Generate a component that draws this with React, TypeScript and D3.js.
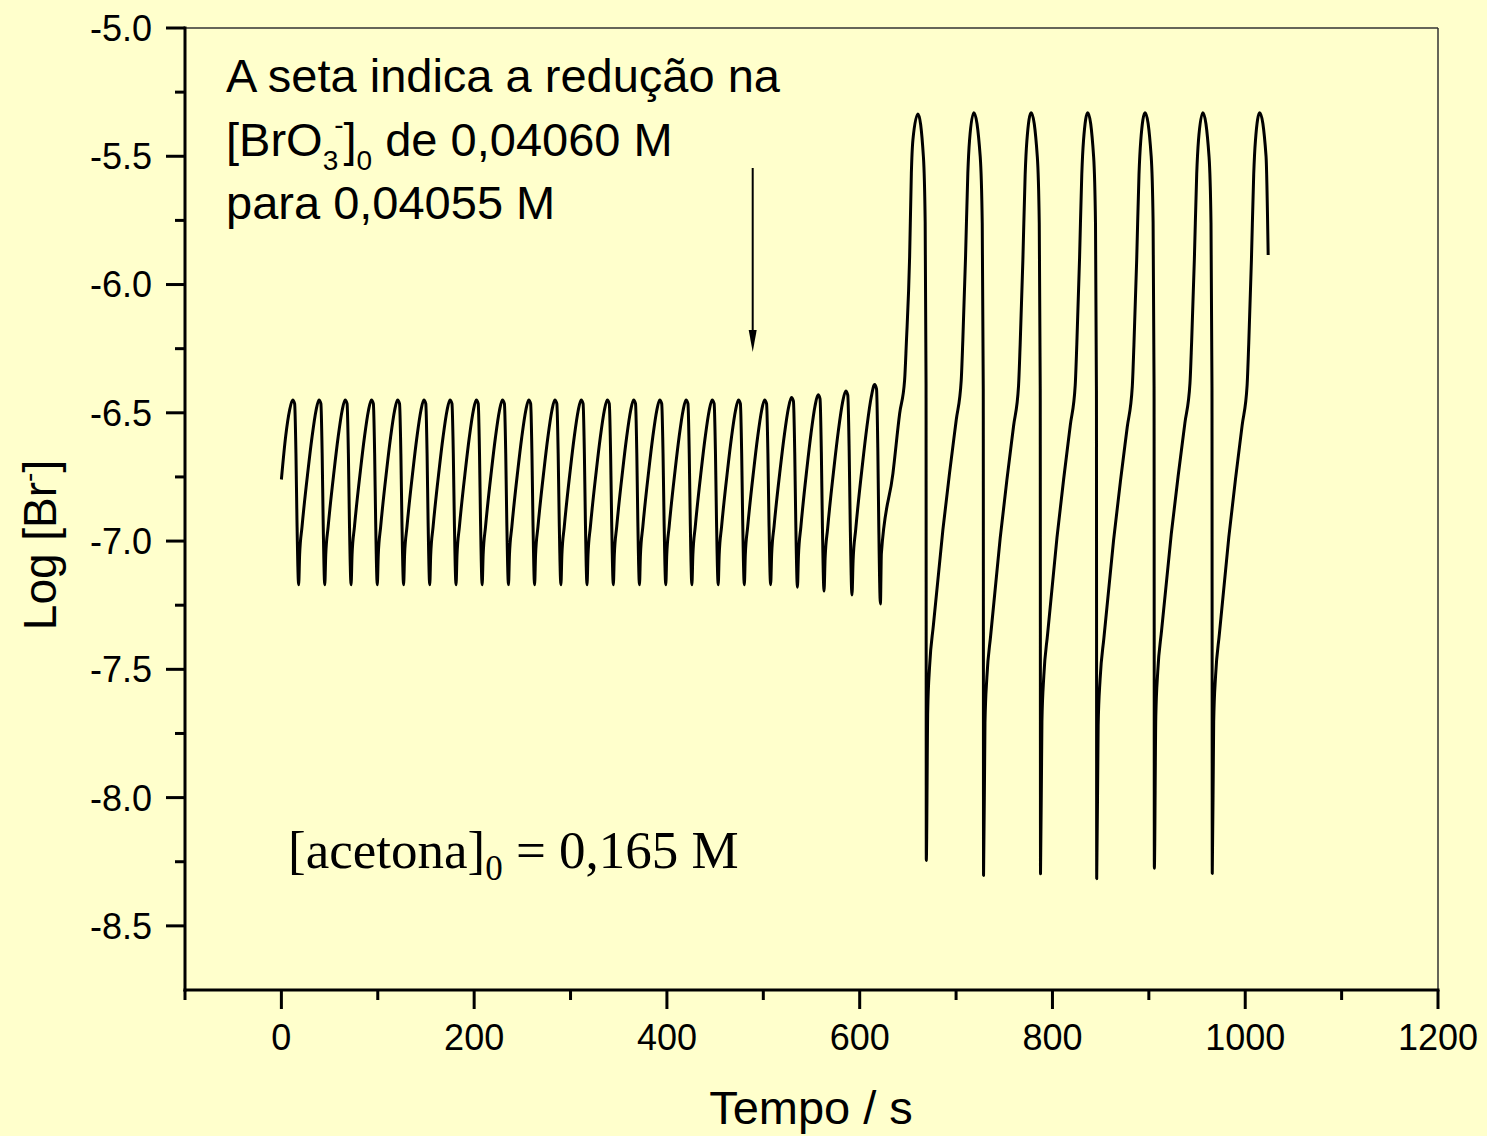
import React from "react";
import * as d3 from "d3";

// ---- axis definitions ----
const xDomain = [-100, 1200];
const yDomain = [-8.75, -5.0];
const xMajorTicks = [0, 200, 400, 600, 800, 1000, 1200];
const xMinorTicks = [-100, 100, 300, 500, 700, 900, 1100];
const yMajorTicks = [-5.0, -5.5, -6.0, -6.5, -7.0, -7.5, -8.0, -8.5];
const yMajorLabels = ["-5.0", "-5.5", "-6.0", "-6.5", "-7.0", "-7.5", "-8.0", "-8.5"];
const yMinorTicks = [-5.25, -5.75, -6.25, -6.75, -7.25, -7.75, -8.25];

// ---- series readings (time s, log[Br-]) ----
// lead-in before the first small peak
const leadIn: [number, number][] = [[0, -6.76], [4.5, -6.59], [8.5, -6.49]];
// small oscillations: peaks and the trough that follows each peak
const smallPeakT = [11.7, 39.0, 66.1, 93.4, 120.5, 147.8, 174.9, 202.2, 229.3, 256.6, 283.7, 311.0, 338.1, 365.4, 392.5, 419.8, 446.9, 474.2, 501.3, 529.2, 556.8, 585.5, 615.5];
const smallPeakV = [-6.45, -6.45, -6.45, -6.45, -6.45, -6.45, -6.45, -6.45, -6.45, -6.45, -6.45, -6.45, -6.45, -6.45, -6.45, -6.45, -6.45, -6.45, -6.45, -6.44, -6.43, -6.415, -6.39];
const smallTroughT = [17.9, 45.0, 72.3, 99.5, 126.8, 153.9, 181.2, 208.3, 235.6, 262.7, 290.0, 317.1, 344.4, 371.5, 398.8, 425.9, 453.2, 480.3, 507.6, 535.4, 563.0, 592.0, 621.5];
const smallTroughV = [-7.17, -7.17, -7.17, -7.17, -7.17, -7.17, -7.17, -7.17, -7.17, -7.17, -7.17, -7.17, -7.17, -7.17, -7.17, -7.17, -7.17, -7.17, -7.17, -7.18, -7.195, -7.21, -7.245];
// shape of a small rise / fall: [fraction of time, fraction of amplitude]
const smallRiseShape: [number, number][] = [[0.049, 0.162], [0.167, 0.314], [0.461, 0.619], [0.657, 0.798], [0.853, 0.942], [1, 1]];
const smallFallShape: [number, number][] = [[0.33, 0.02], [0.55, 0.29], [0.72, 0.65], [1, 1]];
// transition from last small trough to first large peak
const transition: [number, number][] = [[622.5, -7.048], [634.5, -6.736], [641.5, -6.502], [646.6, -6.373], [648.4, -6.229], [651.8, -5.893], [653.6, -5.566], [655.2, -5.437]];
// large oscillations
const bigPeakT = [660.4, 718.4, 777.9, 836.6, 896.1, 956.0, 1015.0];
const bigPeakV = [-5.335, -5.33, -5.33, -5.33, -5.33, -5.33, -5.33];
const bigTroughT = [669.1, 728.5, 787.6, 845.9, 905.7, 965.8];
const bigTroughV = [-8.245, -8.304, -8.297, -8.316, -8.275, -8.296];
const bigRiseShape: [number, number][] = [[0.03, 0.2], [0.07, 0.26], [0.15, 0.315], [0.349, 0.442], [0.489, 0.518], [0.63, 0.589], [0.735, 0.642], [0.769, 0.696], [0.826, 0.807], [0.874, 0.919], [0.91, 0.963], [1, 1]];
const bigFallShape: [number, number][] = [[0.66, 0.058], [0.866, 0.145], [0.97, 0.363], [1, 1]];
const tail: [number, number][] = [[1021.6, -5.5], [1023.8, -5.885]];

// ---- build the series ----
function segment(t0: number, v0: number, t1: number, v1: number, shape: [number, number][]) {
  return shape.map(([f, g]) => [t0 + f * (t1 - t0), v0 + g * (v1 - v0)] as [number, number]);
}
function buildSeries(): [number, number][] {
  const pts: [number, number][] = [...leadIn];
  for (let i = 0; i < smallPeakT.length; i++) {
    if (i === 0) pts.push([smallPeakT[0], smallPeakV[0]]);
    else pts.push(...segment(smallTroughT[i - 1], smallTroughV[i - 1], smallPeakT[i], smallPeakV[i], smallRiseShape));
    pts.push(...segment(smallPeakT[i], smallPeakV[i], smallTroughT[i], smallTroughV[i], smallFallShape));
  }
  pts.push(...transition);
  pts.push([bigPeakT[0], bigPeakV[0]]);
  for (let j = 0; j < bigTroughT.length; j++) {
    pts.push(...segment(bigPeakT[j], bigPeakV[j], bigTroughT[j], bigTroughV[j], bigFallShape));
    pts.push(...segment(bigTroughT[j], bigTroughV[j], bigPeakT[j + 1], bigPeakV[j + 1], bigRiseShape));
  }
  pts.push(...tail);
  return pts;
}

export default function App() {
  const W = 1487, H = 1136;
  const x = d3.scaleLinear().domain(xDomain).range([185, 1438]);
  const y = d3.scaleLinear().domain(yDomain).range([990, 28]);
  const data = buildSeries();
  const line = d3.line<[number, number]>().x(d => x(d[0])).y(d => y(d[1])).curve(d3.curveMonotoneX);
  const sans = "'Liberation Sans', Arial, sans-serif";
  const serif = "'Liberation Serif', 'Times New Roman', serif";
  const x0 = x(xDomain[0]), x1 = x(xDomain[1]);
  const y0 = y(yDomain[0]), y1 = y(yDomain[1]);
  const arrowX = x(489);
  return (
    <div style={{ position: "fixed", left: 0, top: 0, width: W, height: H, background: "#FFFFCC" }}>
      <svg width={W} height={H} style={{ position: "absolute", left: 0, top: 0 }}>
        <rect x={0} y={0} width={W} height={H} fill="#FFFFCC" />
        {/* frame top/right */}
        <line x1={x0} x2={x1} y1={y1} y2={y1} stroke="#333" strokeWidth={1.5} />
        <line x1={x1} x2={x1} y1={y1} y2={y0} stroke="#333" strokeWidth={1.5} />
        {/* y axis */}
        <line x1={x0} x2={x0} y1={y1 - 1.5} y2={y0 + 1.5} stroke="#000" strokeWidth={3} />
        {yMajorTicks.map((t, i) => (
          <g key={"ym" + i}>
            <line x1={x0 - 19} x2={x0} y1={y(t)} y2={y(t)} stroke="#000" strokeWidth={3} />
            <text x={152} y={y(t)} dy="0.36em" textAnchor="end" fontFamily={sans} fontSize={36}>{yMajorLabels[i]}</text>
          </g>
        ))}
        {yMinorTicks.map((t, i) => (
          <line key={"yn" + i} x1={x0 - 10} x2={x0} y1={y(t)} y2={y(t)} stroke="#000" strokeWidth={3} />
        ))}
        {/* x axis */}
        <line x1={x0 - 1.5} x2={x1 + 1.5} y1={y0} y2={y0} stroke="#000" strokeWidth={3} />
        {xMajorTicks.map((t, i) => (
          <g key={"xm" + i}>
            <line x1={x(t)} x2={x(t)} y1={y0} y2={y0 + 19} stroke="#000" strokeWidth={3} />
            <text x={x(t)} y={1050} textAnchor="middle" fontFamily={sans} fontSize={36}>{String(t)}</text>
          </g>
        ))}
        {xMinorTicks.map((t, i) => (
          <line key={"xn" + i} x1={x(t)} x2={x(t)} y1={y0} y2={y0 + 10} stroke="#000" strokeWidth={3} />
        ))}
        {/* axis titles */}
        <text x={811} y={1124} textAnchor="middle" fontFamily={sans} fontSize={47}>Tempo / s</text>
        <text transform="translate(56,545) rotate(-90)" textAnchor="middle" fontFamily={sans} fontSize={46}>
          Log [Br<tspan fontSize={28} dy={-18}>-</tspan><tspan dy={18}>]</tspan>
        </text>
        {/* data */}
        <path d={line(data) || ""} fill="none" stroke="#000" strokeWidth={3} strokeLinejoin="round" />
        {/* annotation */}
        <text x={226} y={92} fontFamily={sans} fontSize={47}>A seta indica a redução na</text>
        <text x={226} y={156} fontFamily={sans} fontSize={47}>
          [BrO<tspan fontSize={28} dy={14}>3</tspan><tspan fontSize={28} dx={-4} dy={-36}>-</tspan><tspan dy={22}>]</tspan><tspan fontSize={28} dy={14}>0</tspan><tspan dy={-14}> de 0,04060 M</tspan>
        </text>
        <text x={226} y={219} fontFamily={sans} fontSize={47}>para 0,04055 M</text>
        <text x={288} y={868} fontFamily={serif} fontSize={53}>
          [acetona]<tspan fontSize={35} dy={12}>0</tspan><tspan dy={-12}> = 0,165 M</tspan>
        </text>
        {/* arrow */}
        <line x1={arrowX} x2={arrowX} y1={168} y2={335} stroke="#000" strokeWidth={2} />
        <path d={`M${arrowX - 4},${330} L${arrowX + 4},${330} L${arrowX},${352} Z`} fill="#000" />
      </svg>
    </div>
  );
}
